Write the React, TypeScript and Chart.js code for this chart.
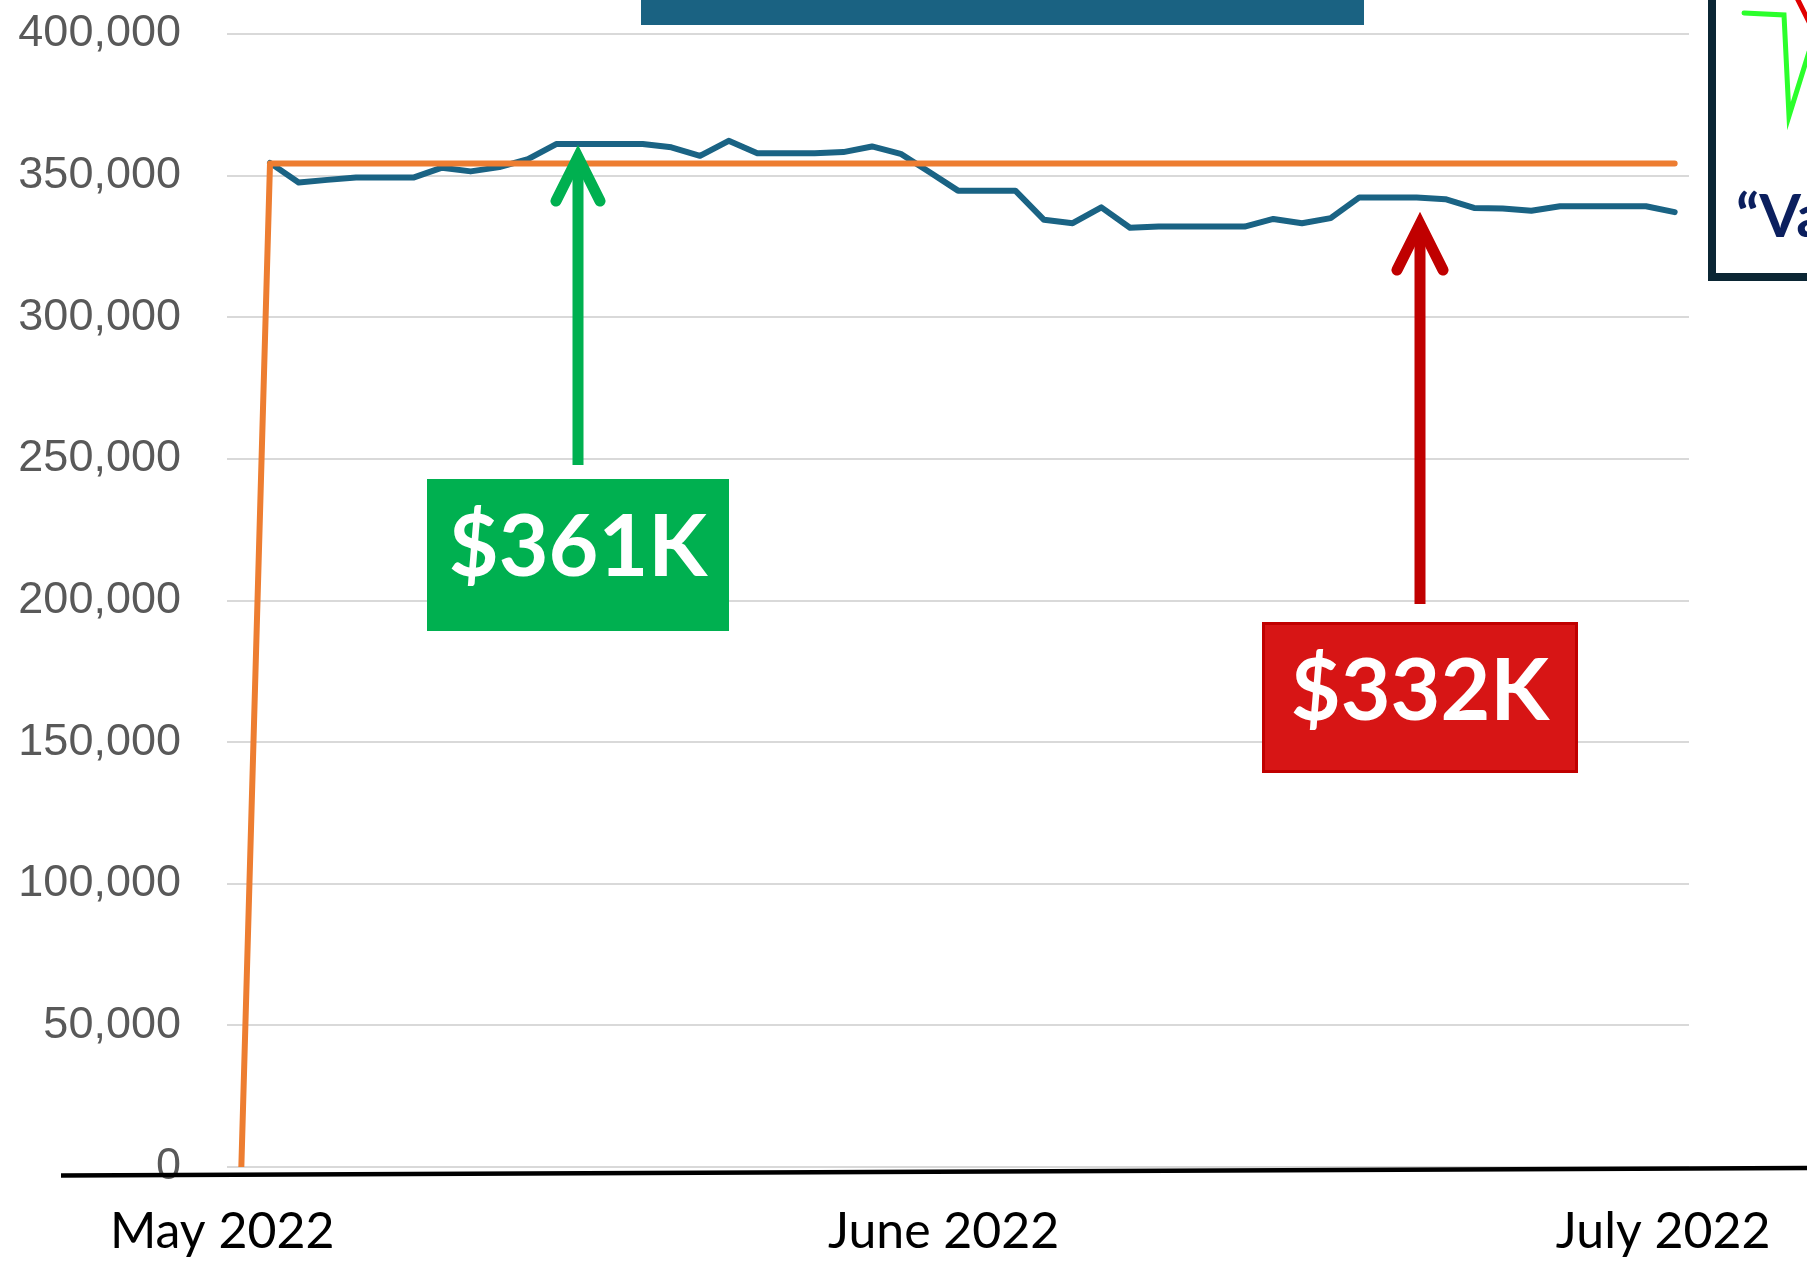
import React, { useEffect, useRef } from "react";
import { Chart, registerables } from "chart.js";

Chart.register(...registerables);

const W = 1807;
const H = 1261;

// Series values (one point per period, period 0 has no actual value)
const actualValues: (number | null)[] = [
  null, 354500, 347600, 348500, 349300, 349300, 349300, 352800, 351500, 353000,
  355800, 361200, 361200, 361200, 361200, 360000, 357000, 362300, 357900, 357900,
  357900, 358300, 360300, 357700, 351300, 344700, 344700, 344700, 334400, 333200,
  338800, 331600, 332000, 332000, 332000, 332000, 334700, 333200, 335000, 342300,
  342300, 342300, 341700, 338600, 338400, 337600, 339200, 339200, 339200, 339200,
  337100,
];

const targetValues: number[] = [
  0, 354300, 354300, 354300, 354300, 354300, 354300, 354300, 354300, 354300,
  354300, 354300, 354300, 354300, 354300, 354300, 354300, 354300, 354300, 354300,
  354300, 354300, 354300, 354300, 354300, 354300, 354300, 354300, 354300, 354300,
  354300, 354300, 354300, 354300, 354300, 354300, 354300, 354300, 354300, 354300,
  354300, 354300, 354300, 354300, 354300, 354300, 354300, 354300, 354300, 354300,
  354300,
];

const periods: number[] = actualValues.map((_, i) => i);

// Month tick labels and their positions on the period axis
const monthTickPositions: number[] = [-0.67, 24.5, 49.6];
const monthTickLabels: string[] = ["May 2022", "June 2022", "July 2022"];

// Y axis
const yMin = 0;
const yMax = 400000;
const yStep = 50000;

// Callout labels
const maxCallout = "$361K";
const minCallout = "$332K";
const sideText = "\u201CValue";

function drawArrow(ctx: CanvasRenderingContext2D, x: number, yBottom: number, yTip: number, wingDx: number, wingDy: number, color: string, width: number) {
  ctx.save();
  ctx.strokeStyle = color;
  ctx.lineWidth = width;
  ctx.lineCap = "butt";
  ctx.beginPath();
  ctx.moveTo(x, yBottom);
  ctx.lineTo(x, yTip + 8);
  ctx.stroke();
  ctx.lineCap = "round";
  ctx.lineJoin = "miter";
  ctx.beginPath();
  ctx.moveTo(x - wingDx, yTip + wingDy);
  ctx.lineTo(x, yTip + 4);
  ctx.lineTo(x + wingDx, yTip + wingDy);
  ctx.stroke();
  ctx.restore();
}

const overlayPlugin = {
  id: "overlay",
  beforeDraw(chart: any) {
    const ctx = chart.ctx;
    ctx.save();
    ctx.fillStyle = "#ffffff";
    ctx.fillRect(0, 0, chart.width, chart.height);
    ctx.restore();
  },
  afterDraw(chart: any) {
    const ctx: CanvasRenderingContext2D = chart.ctx;
    ctx.save();

    // title bar fragment at top
    ctx.fillStyle = "#1A6282";
    ctx.fillRect(641, 0, 723, 25);

    // right side panel
    ctx.strokeStyle = "#0B2634";
    ctx.lineWidth = 8;
    ctx.strokeRect(1712, -20, 220, 297);

    ctx.lineCap = "round";
    ctx.lineJoin = "miter";
    ctx.strokeStyle = "#2BFF2B";
    ctx.lineWidth = 5;
    ctx.beginPath();
    ctx.moveTo(1744, 13);
    ctx.lineTo(1784, 15);
    ctx.lineTo(1789, 116);
    ctx.lineTo(1809, 52);
    ctx.stroke();

    ctx.strokeStyle = "#E00000";
    ctx.lineWidth = 5;
    ctx.beginPath();
    ctx.moveTo(1797, -2);
    ctx.lineTo(1810, 24);
    ctx.stroke();

    ctx.fillStyle = "#0B1F5E";
    ctx.font = "bold 60px Lato";
    ctx.textAlign = "left";
    ctx.textBaseline = "alphabetic";
    ctx.fillText(sideText, 1736, 237);

    // green callout
    ctx.fillStyle = "#00B050";
    ctx.fillRect(427, 479, 302, 152);
    ctx.fillStyle = "#ffffff";
    ctx.font = "bold 86px Lato";
    ctx.textAlign = "center";
    ctx.textBaseline = "middle";
    ctx.fillText(maxCallout, 578, 548);
    drawArrow(ctx, 578, 465, 153, 22, 48, "#00B050", 11);

    // red callout
    ctx.fillStyle = "#D71515";
    ctx.fillRect(1262, 622, 316, 151);
    ctx.strokeStyle = "#C00000";
    ctx.lineWidth = 3;
    ctx.strokeRect(1263.5, 623.5, 313, 148);
    ctx.fillStyle = "#ffffff";
    ctx.font = "bold 86px Lato";
    ctx.textAlign = "center";
    ctx.textBaseline = "middle";
    ctx.fillText(minCallout, 1420, 692);
    drawArrow(ctx, 1420, 604, 220, 23, 50, "#C00000", 11);

    // hand-drawn baseline
    ctx.strokeStyle = "#000000";
    ctx.lineWidth = 4.5;
    ctx.lineCap = "butt";
    ctx.beginPath();
    ctx.moveTo(61, 1175.5);
    ctx.lineTo(1807, 1168);
    ctx.stroke();

    ctx.restore();
  },
};

export default function App() {
  const ref = useRef<HTMLCanvasElement | null>(null);

  useEffect(() => {
    if (!ref.current) return;
    const chart = new Chart(ref.current, {
      type: "line",
      data: {
        datasets: [
          {
            label: "Target",
            data: periods.map((p, i) => ({ x: p, y: targetValues[i] })),
            borderColor: "#ED7D31",
            borderWidth: 6,
            pointRadius: 0,
            tension: 0,
            borderCapStyle: "round",
            borderJoinStyle: "round",
          },
          {
            label: "Actual",
            data: periods.map((p, i) => ({ x: p, y: actualValues[i] })),
            borderColor: "#1A6384",
            borderWidth: 6,
            pointRadius: 0,
            tension: 0,
            spanGaps: false,
            borderCapStyle: "round",
            borderJoinStyle: "round",
          },
        ],
      },
      options: {
        responsive: false,
        animation: false,
        devicePixelRatio: 1,
        layout: { padding: { left: 0, right: W - 1689, top: 34, bottom: 0 } },
        plugins: {
          legend: { display: false },
          tooltip: { enabled: false },
          title: { display: false },
        },
        scales: {
          x: {
            type: "linear",
            min: -0.5,
            max: 50.5,
            grid: { display: false, drawTicks: false },
            border: { display: false },
            afterBuildTicks: (s: any) => {
              s.ticks = monthTickPositions.map((v) => ({ value: v }));
            },
            afterFit: (s: any) => {
              s.height = H - 1167;
              s.paddingLeft = 0;
              s.paddingRight = 0;
            },
            ticks: {
              autoSkip: false,
              maxRotation: 0,
              minRotation: 0,
              padding: 35,
              color: "#000000",
              font: { family: "Lato", size: 50 },
              callback: (_v: any, i: number) => monthTickLabels[i],
            },
          },
          y: {
            min: yMin,
            max: yMax,
            grid: { color: "#D9D9D9", lineWidth: 2, drawTicks: false },
            border: { display: false },
            afterFit: (s: any) => {
              s.width = 227;
              s.paddingTop = 0;
              s.paddingBottom = 0;
            },
            ticks: {
              stepSize: yStep,
              padding: 46,
              color: "#595959",
              font: { family: "Liberation Sans", size: 45 },
              callback: (v: any) => Number(v).toLocaleString("en-US"),
            },
          },
        },
      },
      plugins: [overlayPlugin],
    } as any);
    return () => chart.destroy();
  }, []);

  return (
    <div style={{ position: "fixed", left: 0, top: 0, width: W, height: H }}>
      <canvas ref={ref} width={W} height={H} style={{ display: "block", width: W, height: H }} />
    </div>
  );
}
